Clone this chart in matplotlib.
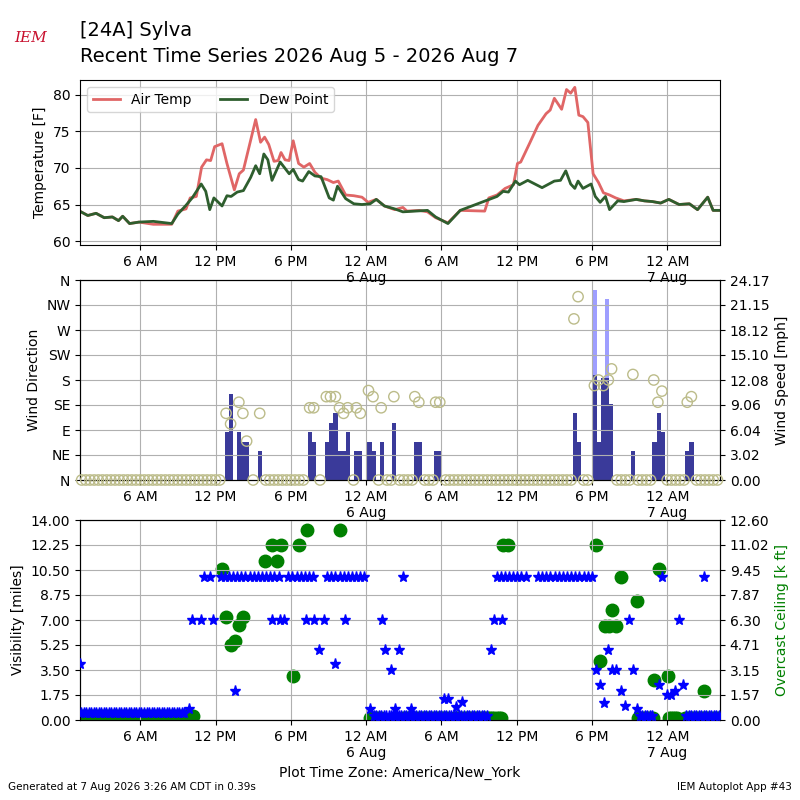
import datetime
import numpy as np
import matplotlib
matplotlib.use('Agg')
import matplotlib.pyplot as plt
import matplotlib.dates as mdates
from matplotlib.ticker import FuncFormatter

# 時刻は 2026-08-05 00:00 からの時間数
base = datetime.datetime(2026, 8, 5)

temp_h = [1.17, 1.82, 2.48, 3.13, 3.78, 4.27, 4.6, 5.15, 5.9, 7.04, 8.51, 9.0, 9.65, 9.98, 10.47,
          10.89, 11.28, 11.61, 11.93, 12.52, 12.91, 13.5, 13.89, 14.22, 15.2, 15.59, 15.91, 16.24,
          16.66, 16.99, 17.22, 17.54, 17.87, 18.19, 18.62, 19.04, 19.5, 19.92, 20.41, 20.9, 21.39,
          21.78, 22.37, 23.02, 23.67, 24.16, 24.81, 25.46, 26.28, 26.93, 27.26, 28.24, 28.89, 29.54,
          30.52, 31.5, 33.45, 33.78, 34.43, 35.08, 35.74, 36.06, 36.32, 37.04, 37.69, 38.34, 38.67,
          39.0, 39.58, 39.97, 40.3, 40.63, 40.95, 41.28, 41.67, 42.09, 42.52, 42.91, 43.4, 43.89,
          44.54, 45.52, 46.17, 46.82, 47.47, 48.12, 48.94, 49.76, 50.41, 51.22, 51.65, 52.3]
temp_f = [64.1, 63.5, 63.8, 63.2, 63.3, 62.8, 63.4, 62.4, 62.6, 62.3, 62.3, 64.1, 64.4, 65.9, 66.1,
          70.1, 71.1, 71.0, 72.9, 73.3, 70.6, 67.0, 69.2, 69.7, 76.6, 73.5, 74.2, 73.2,
          70.9, 71.0, 72.1, 71.1, 71.0, 73.7, 70.6, 70.1, 70.6, 69.4, 68.6, 68.4, 68.0,
          68.2, 66.3, 66.2, 66.0, 65.3, 65.7, 64.8, 64.3, 64.6, 64.1, 64.2, 64.0, 63.2,
          62.5, 64.2, 64.1, 65.9, 66.3, 67.2, 67.7, 70.6, 70.8, 73.4, 75.8, 77.4, 77.9,
          79.5, 78.0, 80.7, 80.2, 81.0, 77.2, 77.0, 76.2, 69.2, 68.0, 66.6, 66.3, 65.9,
          65.5, 65.7, 65.5, 65.4, 65.2, 65.7, 65.0, 65.1, 64.3, 66.0, 64.2, 64.2]

dew_h = [1.17, 1.82, 2.48, 3.13, 3.78, 4.27, 4.6, 5.15, 5.9, 7.04, 8.51, 9.0, 9.65, 10.14, 10.86,
         11.22, 11.54, 11.87, 12.52, 12.91, 13.24, 13.73, 14.22, 14.8, 15.2, 15.52, 15.85, 16.17,
         16.5, 17.15, 17.87, 18.19, 18.62, 18.94, 19.43, 19.92, 20.41, 21.06, 21.39, 21.72, 22.37,
         23.02, 23.67, 24.32, 24.81, 25.46, 26.28, 26.93, 28.89, 29.54, 30.52, 31.5, 34.43, 34.92,
         35.34, 35.9, 36.22, 36.88, 38.02, 39.0, 39.49, 39.91, 40.3, 40.63, 40.89, 41.28, 41.93,
         42.26, 42.65, 43.07, 43.4, 44.05, 44.54, 45.52, 46.17, 46.82, 47.47, 48.12, 48.94, 49.76,
         50.41, 51.22, 51.65, 52.3]
dew_f = [64.1, 63.5, 63.8, 63.2, 63.3, 62.8, 63.4, 62.4, 62.6, 62.7, 62.4, 63.7, 64.9, 65.9, 67.8,
         66.8, 64.3, 65.9, 64.8, 66.2, 66.1, 66.7, 66.9, 68.7, 70.3, 69.2, 71.9, 71.1,
         68.3, 70.8, 69.2, 69.8, 68.4, 68.2, 69.5, 68.9, 68.8, 65.9, 65.6, 67.5, 65.8,
         65.1, 65.0, 65.1, 65.7, 64.8, 64.4, 64.0, 64.2, 63.3, 62.4, 64.2, 66.1, 66.8,
         66.7, 68.2, 67.7, 68.3, 67.3, 68.2, 68.3, 69.6, 67.8, 67.2, 68.2, 67.2, 67.8,
         66.1, 65.3, 66.1, 64.3, 65.5, 65.4, 65.7, 65.5, 65.4, 65.2, 65.7, 65.0, 65.1,
         64.3, 66.0, 64.2, 64.2]

# 風速 (20分毎の棒)
wind_h = [12.75, 13.07, 13.73, 14.05, 14.31, 15.36, 19.37, 19.69, 20.74, 21.06, 21.39, 21.72, 22.04,
          22.37, 23.02, 23.35, 24.1, 24.42, 25.07, 26.05, 27.81, 28.14, 29.38, 29.7, 40.46, 40.79,
          42.03, 42.36, 42.68, 43.0, 43.33, 45.09, 46.82, 47.15, 47.47, 49.43, 49.76]
wind_mph = [5.8, 10.4, 5.8, 4.6, 4.6, 3.5, 5.8, 4.6, 4.6, 6.85, 8.05, 3.5, 3.5,
            5.8, 3.5, 3.5, 4.6, 3.5, 4.6, 6.85, 4.6, 4.6, 3.5, 3.5, 8.05, 4.6,
            12.7, 4.6, 12.3, 12.3, 9.2, 3.5, 4.6, 8.05, 5.8, 3.5, 4.6]
gust_h = [42.03, 43.0]
gust_mph = [23.0, 21.9]
speed_ticks = ['0.00', '3.02', '6.04', '9.06', '12.08', '15.10', '18.12', '21.15', '24.17']

dir_h = [12.84, 13.2, 13.86, 14.18, 14.48, 15.52, 19.5, 19.82, 20.83, 21.16, 21.55, 21.88, 22.2,
         22.53, 23.22, 23.54, 24.19, 24.55, 25.2, 26.21, 27.88, 28.2, 29.54, 29.87, 40.56, 40.89,
         42.19, 42.52, 42.91, 43.3, 43.56, 45.26, 46.92, 47.25, 47.57, 49.59, 49.92]
dir_deg = [120, 101, 140, 120, 70, 120, 130, 130, 150, 150, 150, 130, 120,
           130, 130, 120, 161, 150, 130, 150, 150, 140, 140, 140, 290, 330,
           170, 180, 170, 180, 200, 190, 180, 140, 160, 140, 150]
obs_h = np.arange(1.33, 52.3, 1 / 3)  # 観測時刻 (静穏時は0)
calm_h = [h for h in obs_h if min(abs(h - d) for d in dir_h) > 0.2]

# 視程
vis_h = [1.17, 9.9, 10.14, 10.86, 11.77, 16.5, 17.15, 17.48, 19.2, 19.86, 20.64, 22.3, 25.24,
         34.2, 34.85, 44.96, 48.94, 11.12, 11.54, 26.93, 47.6, 50.96,
         13.56, 20.25, 21.55, 25.53, 26.6, 26.02, 33.94, 42.35, 42.65, 42.97, 43.3, 43.56, 43.95,
         44.31, 44.64, 45.29, 45.58, 47.3, 47.96, 48.29, 48.61, 49.27, 24.32, 26.28, 27.59,
         30.19, 30.52, 31.17, 31.66]
vis_mi = [3.95, 0.8, 7, 7, 7, 7, 7, 7, 7, 7, 7, 7, 7,
          7, 7, 7, 7, 10, 10, 10, 10, 10,
          2.0, 4.93, 3.95, 4.93, 4.93, 3.48, 4.93, 3.5, 2.48, 1.2, 4.93, 3.5, 3.5,
          2.0, 0.96, 3.5, 0.8, 2.48, 1.73, 1.73, 2.0, 2.48, 0.8, 0.8, 0.8,
          1.5, 1.5, 0.91, 1.26]
vis10_runs = [(12.4, 17.2), (17.8, 19.9), (20.9, 24.0), (34.4, 37.0), (37.7, 42.1)]
vis_low_runs = [(1.3, 9.6, 0.5), (24.6, 33.8, 0.3), (45.8, 46.9, 0.3), (49.5, 52.3, 0.3)]
vis_ticks = ['0.00', '1.75', '3.50', '5.25', '7.00', '8.75', '10.50', '12.25', '14.00']

# 雲底 (k ft)
ceil_h = [12.52, 12.84, 13.24, 13.56, 13.89, 14.22, 15.91, 16.5, 16.92, 17.25, 18.19, 18.62, 19.27,
          21.88, 34.92, 35.31, 42.35, 42.65, 43.0, 43.33, 43.63, 43.95, 44.31, 45.58, 46.98,
          47.3, 48.02, 50.96]
ceil_kft = [9.49, 6.46, 4.71, 4.96, 5.97, 6.46, 10.0, 11.0, 10.0, 11.0, 2.76, 11.0, 12.0,
            12.0, 11.0, 11.0, 11.0, 3.74, 5.95, 5.95, 6.96, 5.95, 9.0, 7.47, 2.5,
            9.49, 2.76, 1.81]
ceil_low_runs = [(1.2, 10.3, 0.25), (24.3, 25.2, 0.15), (26.3, 26.4, 0.15), (26.9, 30.5, 0.15),
                 (31.0, 34.9, 0.15), (45.7, 47.0, 0.15), (48.1, 48.9, 0.15), (49.4, 52.3, 0.15)]
ceil_ticks = ['0.00', '1.57', '3.15', '4.71', '6.30', '7.87', '9.45', '11.02', '12.60']


def t(hours):
    return [base + datetime.timedelta(hours=float(h)) for h in hours]


def fmt(x, pos):
    d = mdates.num2date(x)
    if d.hour == 0:
        return '12 AM\n%d Aug' % d.day
    if d.hour == 12:
        return '12 PM'
    return '%d %s' % (d.hour % 12, 'AM' if d.hour < 12 else 'PM')


fig = plt.figure(figsize=(8, 8), dpi=100)
ax1 = fig.add_axes([0.1, 0.694, 0.8, 0.206])
ax2 = fig.add_axes([0.1, 0.4, 0.8, 0.25])
ax3 = fig.add_axes([0.1, 0.1, 0.8, 0.25])
xlim = t([1.2, 52.2])

fig.text(0.1, 0.955, '[24A] Sylva', fontsize=14)
fig.text(0.1, 0.923, 'Recent Time Series 2026 Aug 5 - 2026 Aug 7', fontsize=14)
fig.text(0.038, 0.948, 'IEM', fontsize=11, color='#c8102e', style='italic', ha='center',
         family='serif')
fig.text(0.01, 0.012, 'Generated at 7 Aug 2026 3:26 AM CDT in 0.39s', fontsize=7.5)
fig.text(0.99, 0.012, 'IEM Autoplot App #43', fontsize=7.5, ha='right')

# 気温
ax1.plot(t(temp_h), temp_f, color='#e06666', lw=2, label='Air Temp')
ax1.plot(t(dew_h), dew_f, color='#2e5e2e', lw=2, label='Dew Point')
ax1.set_ylim(59.5, 82)
ax1.set_yticks([60, 65, 70, 75, 80])
ax1.set_ylabel('Temperature [F]')
ax1.legend(loc='upper left', ncol=2)

# 風
ax2.scatter(t(dir_h), dir_deg, s=55, facecolors='none', edgecolors='#bcbc8a', zorder=3)
ax2.scatter(t(calm_h), [0] * len(calm_h), s=55, facecolors='none', edgecolors='#bcbc8a',
            zorder=3, clip_on=False)
ax2.set_ylim(0, 360)
ax2.set_yticks(range(0, 361, 45))
ax2.set_yticklabels(['N', 'NE', 'E', 'SE', 'S', 'SW', 'W', 'NW', 'N'])
ax2.set_ylabel('Wind Direction')
ax2b = ax2.twinx()
w = 0.33 / 24
ax2b.bar(t(gust_h), gust_mph, width=w, align='edge', color='#9e9eff', zorder=1)
ax2b.bar(t(wind_h), wind_mph, width=w, align='edge', color='#3a3a9a', zorder=2)
ax2b.set_ylim(0, 24.17)
ax2b.set_yticks(np.linspace(0, 24.17, 9))
ax2b.set_yticklabels(speed_ticks)
ax2b.set_ylabel('Wind Speed [mph]')
ax2.set_zorder(ax2b.get_zorder() + 1)
ax2.patch.set_visible(False)

# 視程と雲底
vh, vv = list(vis_h), list(vis_mi)
for a, b in vis10_runs:
    r = np.arange(a, b, 0.33)
    vh += list(r)
    vv += [10] * len(r)
for a, b, v in vis_low_runs:
    r = np.arange(a, b, 0.2)
    vh += list(r)
    vv += [v] * len(r)
ax3.plot(t(vh), vv, 'b*', ms=8, zorder=3)
ax3.set_ylim(0, 14)
ax3.set_yticks(np.linspace(0, 14, 9))
ax3.set_yticklabels(vis_ticks)
ax3.set_ylabel('Visibility [miles]')
ax3.set_xlabel('Plot Time Zone: America/New_York')
ax3b = ax3.twinx()
ch, cv = list(ceil_h), list(ceil_kft)
for a, b, v in ceil_low_runs:
    r = np.arange(a, b + 0.01, 0.17)
    ch += list(r)
    cv += [v] * len(r)
ax3b.plot(t(ch), cv, 'o', color='green', ms=9, zorder=2)
ax3b.set_ylim(0, 12.6)
ax3b.set_yticks(np.linspace(0, 12.6, 9))
ax3b.set_yticklabels(ceil_ticks)
ax3b.set_ylabel('Overcast Ceiling [k ft]', color='green')
ax3.set_zorder(ax3b.get_zorder() + 1)
ax3.patch.set_visible(False)

for ax in (ax1, ax2, ax3):
    ax.set_xlim(xlim)
    ax.xaxis.set_major_locator(mdates.HourLocator(byhour=[0, 6, 12, 18]))
    ax.xaxis.set_major_formatter(FuncFormatter(fmt))
    ax.grid(True)

plt.savefig('out.png')
